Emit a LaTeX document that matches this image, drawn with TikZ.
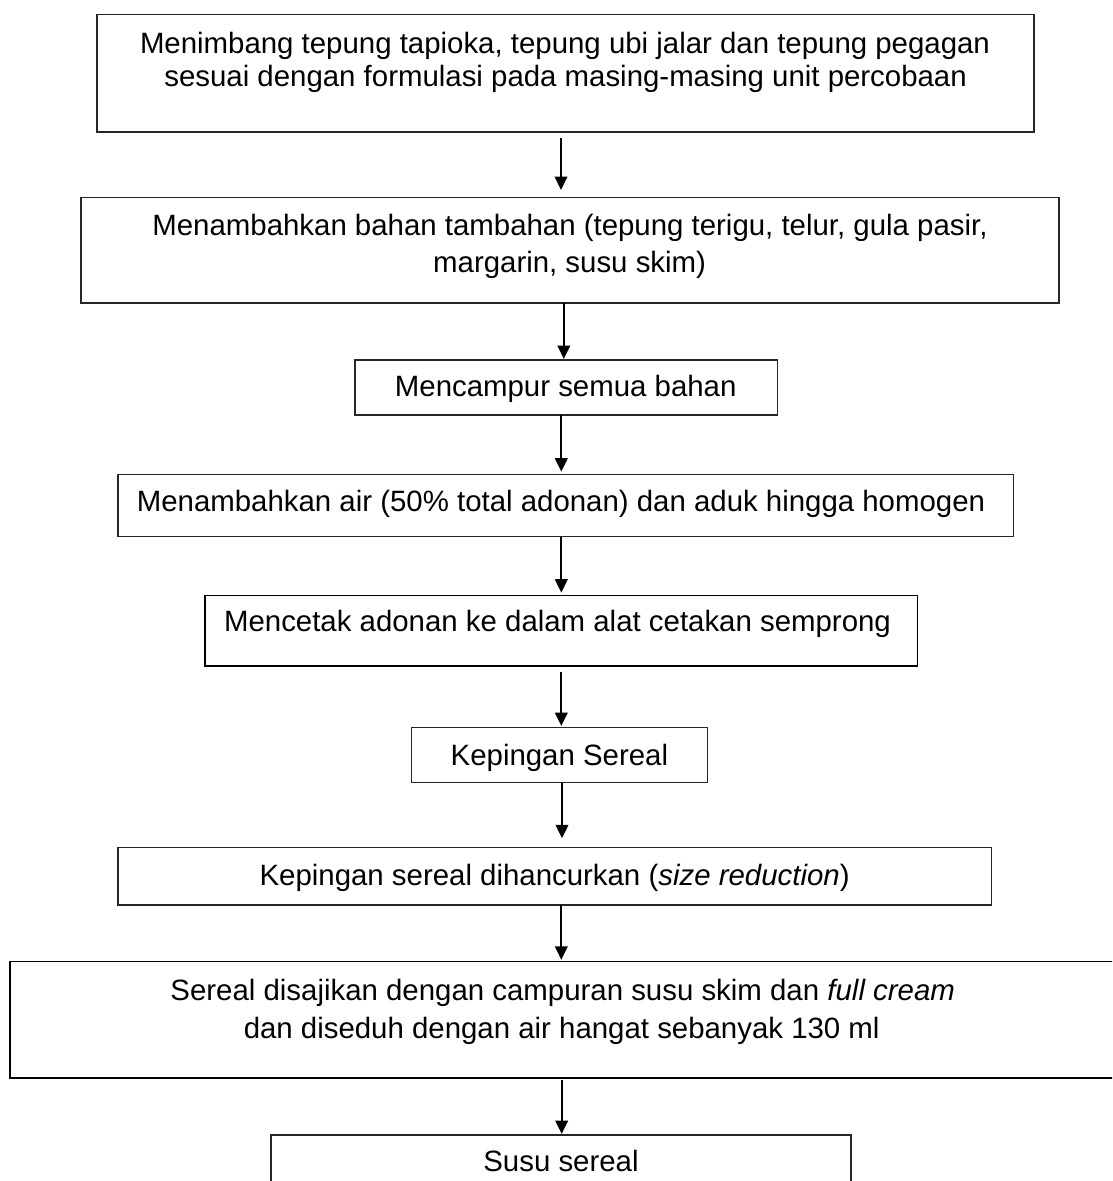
\documentclass[tikz,border=0pt]{standalone}
\usepackage{fontspec}
\setmainfont{Liberation Sans}
\usetikzlibrary{arrows.meta}
\begin{document}
\begin{tikzpicture}[x=1pt,y=-1pt,
  box/.style={draw=black!85, line width=1.3pt, rectangle, inner sep=0pt, outer sep=0pt},
  txt/.style={inner sep=0pt, anchor=base, font=\fontsize{29.4}{33}\selectfont},
  arr/.style={line width=2.2pt, -{Triangle[length=13.5pt,width=12.5pt]}}]
\clip (0,0) rectangle (1112,1181);
\fill[white] (0,0) rectangle (1112,1181);
% boxes
\node[box, minimum width=937pt, minimum height=117.3pt] (b1) at (565.5,73.35) {};
\node[box, minimum width=978pt, minimum height=105.3pt] (b2) at (570,250.35) {};
\node[box, minimum width=422.6pt, minimum height=55pt] (b3) at (566.3,387.5) {};
\node[box, minimum width=895.4pt, minimum height=62.4pt] (b4) at (565.7,505.5) {};
\node[box, draw=black, minimum width=712.7pt, minimum height=70.3pt] (b5) at (561.35,630.85) {};
\node[box, minimum width=296.1pt, minimum height=55.4pt] (b6) at (559.75,755) {};
\node[box, minimum width=873.5pt, minimum height=57.7pt] (b7) at (554.75,876.15) {};
\node[box, draw=black, line width=1.8pt, minimum width=1120pt, minimum height=116.8pt] (b8) at (570,1019.9) {};
\node[box, minimum width=580pt, minimum height=65pt] (b9) at (561,1167.5) {};
% texts
\node[txt] (t1a) at (565,53.3) {Menimbang tepung tapioka, tepung ubi jalar dan tepung pegagan};
\node[txt] (t1b) at (565.6,86) {sesuai dengan formulasi pada masing-masing unit percobaan};
\node[txt] (t2a) at (570,235) {Menambahkan bahan tambahan (tepung terigu, telur, gula pasir,};
\node[txt] (t2b) at (569.6,272.7) {margarin, susu skim)};
\node[txt] (t3) at (565.7,396.7) {Mencampur semua bahan};
\node[txt] (t4) at (561,511.7) {Menambahkan air (50\% total adonan) dan aduk hingga homogen};
\node[txt] (t5) at (557.5,631.7) {Mencetak adonan ke dalam alat cetakan semprong};
\node[txt] (t6) at (559.4,765) {Kepingan Sereal};
\node[txt] (t7) at (554.6,885) {Kepingan sereal dihancurkan (\textit{size reduction})};
\node[txt] (t8a) at (562.7,1000) {Sereal disajikan dengan campuran susu skim dan \textit{full cream}};
\node[txt] (t8b) at (561.7,1038.3) {dan diseduh dengan air hangat sebanyak 130 ml};
\node[txt] (t9) at (561,1171.7) {Susu sereal};
% arrow columns
\coordinate (c1) at (561,0);
\coordinate (c2) at (563.8,0);
\coordinate (c3) at (561.3,0);
\coordinate (c6) at (562,0);
\coordinate (c8) at (561.7,0);
% arrows
\draw[arr, shorten <=6pt, shorten >=7.7pt] (b1.south -| c1) -- (b2.north -| c1);
\draw[arr, shorten >=1pt] (b2.south -| c2) -- (b3.north -| c2);
\draw[arr, shorten >=2.6pt] (b3.south -| c3) -- (b4.north -| c3);
\draw[arr, shorten >=3pt] (b4.south -| c3) -- (b5.north -| c3);
\draw[arr, shorten <=5.7pt, shorten >=1.3pt] (b5.south -| c3) -- (b6.north -| c3);
\draw[arr, shorten >=9pt] (b6.south -| c6) -- (b7.north -| c6);
\draw[arr, shorten >=1.7pt] (b7.south -| c3) -- (b8.north -| c3);
\draw[arr, shorten <=1.7pt, shorten >=1pt] (b8.south -| c8) -- (b9.north -| c8);
\end{tikzpicture}
\end{document}
